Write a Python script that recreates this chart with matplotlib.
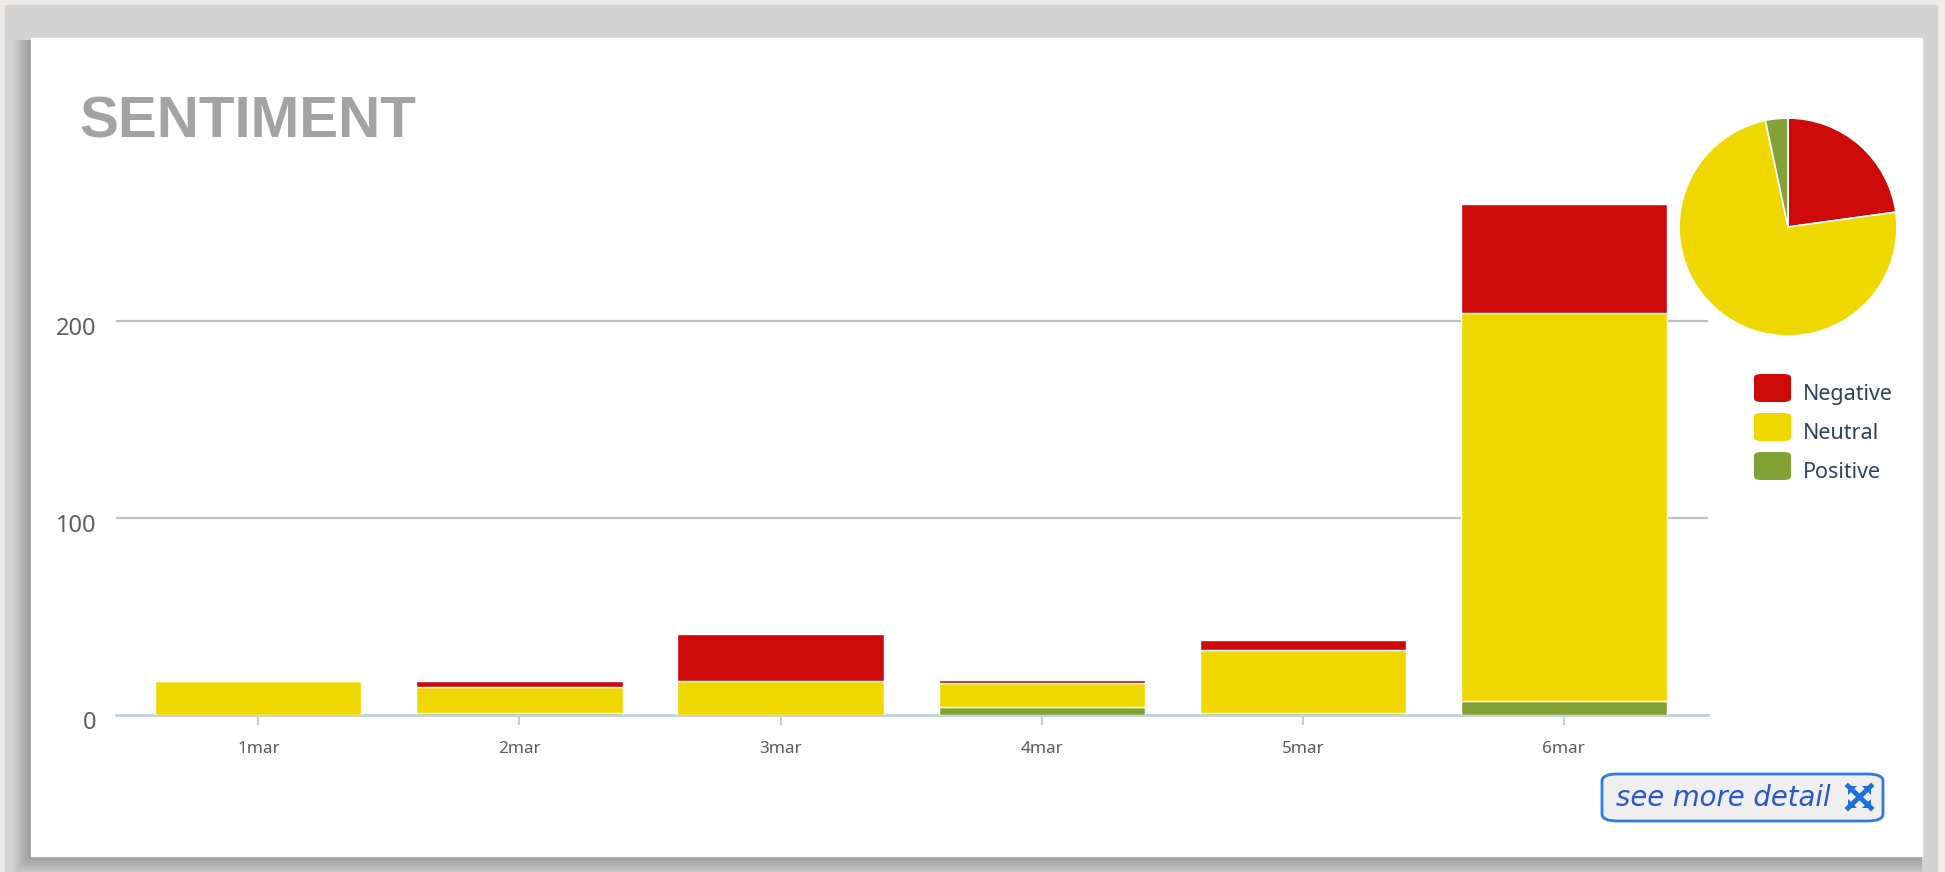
import matplotlib
matplotlib.use("Agg")
import matplotlib.pyplot as plt
from matplotlib.patches import Rectangle, FancyBboxPatch, Polygon
import matplotlib.transforms as mtransforms
import numpy as np

# data
days = ["1mar", "2mar", "3mar", "4mar", "5mar", "6mar"]
positive = [0, 1, 0, 4, 1, 7]
neutral = [17, 13, 17, 12, 32, 197]
negative = [0, 3, 24, 2, 5, 55]
series_names = ["Negative", "Neutral", "Positive"]
y_ticks = [0, 100, 200]

c_neg = "#cd0909"
c_neu = "#efd800"
c_pos = "#82a136"

W, H = 1945, 872
fig = plt.figure(figsize=(W / 100, H / 100), dpi=100)
fig.patch.set_facecolor("#ecebe7")


def box(x0, y0, x1, y1):
    # pixel box (top-left origin) -> figure fraction
    return (x0 / W, 1 - y1 / H, (x1 - x0) / W, (y1 - y0) / H)


def pt(px, py):
    return (px / W, 1 - py / H)


# grey frame, shadow and white card
l, b, w, h = box(5, 5, 1937, 872)
fig.add_artist(Rectangle((l, b), w, h, transform=fig.transFigure, color="#d3d3d3", zorder=0))
for k in range(10):
    l, b, w, h = box(31 - 2 * k, 40, 1922, 856 + 2 * k)
    fig.add_artist(Rectangle((l, b), w, h, transform=fig.transFigure, color="#555555",
                             alpha=0.05, lw=0, zorder=0))
l, b, w, h = box(31, 38, 1922, 856)
fig.add_artist(Rectangle((l, b), w, h, transform=fig.transFigure, color="white", zorder=0))

# title
fig.text(79 / W, 1 - 138 / H, "SENTIMENT", fontsize=42, fontweight="bold",
         family="Liberation Sans", color="#a3a3a3", va="baseline", ha="left")

# bar chart
ax_l, ax_r, ax_b, ax_t = 116, 1708, 715, 183
ax = fig.add_axes([ax_l / W, 1 - ax_b / H, (ax_r - ax_l) / W, (ax_b - ax_t) / H])
ax.set_facecolor("none")
x = np.arange(len(days))
pos = np.array(positive)
neu = np.array(neutral)
neg = np.array(negative)
bw = 0.79
ax.bar(x, pos, bw, color=c_pos, edgecolor="white", linewidth=1, zorder=3)
ax.bar(x, neu, bw, bottom=pos, color=c_neu, edgecolor="white", linewidth=1, zorder=3)
ax.bar(x, neg, bw, bottom=pos + neu, color=c_neg, edgecolor="white", linewidth=1, zorder=3)

ax.set_xlim(-0.545, 5.552)
ax.set_ylim(0, (ax_b - ax_t) / 1.9715)
ax.set_xticks(x)
ax.set_xticklabels(days, family="Noto Sans", fontsize=12.3, color="#5a5a5a")
ax.set_yticks(y_ticks)
ax.set_yticklabels([str(v) for v in y_ticks], family="Noto Sans", fontsize=17, color="#606060")
ax.tick_params(axis="y", length=0, pad=14)
ax.tick_params(axis="x", length=7.5, width=1.5, color="#c0d0e0", pad=11)
for sp in ["top", "right", "left"]:
    ax.spines[sp].set_visible(False)
ax.spines["bottom"].set_color("#c0d0e0")
ax.spines["bottom"].set_linewidth(2)
for v in y_ticks[1:]:
    ax.axhline(v, color="#c0c0c0", lw=1.6, zorder=1)
off = mtransforms.ScaledTranslation(0, -5 / 100, fig.dpi_scale_trans)
for lab in ax.get_yticklabels():
    lab.set_transform(lab.get_transform() + off)

# pie of the totals
totals = [neg.sum(), neu.sum(), pos.sum()]
cx, cy, r = 1788, 227, 110
pax = fig.add_axes(box(cx - r, cy - r, cx + r, cy + r))
pax.pie(totals, colors=[c_neg, c_neu, c_pos], startangle=90, counterclock=False,
        wedgeprops=dict(edgecolor="white", linewidth=1.2))
pax.set_xlim(-1.01, 1.01)
pax.set_ylim(-1.01, 1.01)
pax.set_aspect("equal")
pax.axis("off")

# legend
for i, (name, col) in enumerate(zip(series_names, [c_neg, c_neu, c_pos])):
    y0 = 374 + 39 * i
    l, b, w, h = box(1754, y0, 1791, y0 + 28)
    fig.add_artist(FancyBboxPatch((l, b), w, h, boxstyle="round,pad=0,rounding_size=0.004",
                                  transform=fig.transFigure, color=col, lw=0))
    fig.text(1803 / W, 1 - (y0 + 20) / H, name, family="Noto Sans", fontsize=15.5,
             color="#2d4260", va="center", ha="left")

# "see more detail" button
l, b, w, h = box(1602, 774, 1883, 821)
fig.add_artist(FancyBboxPatch((l, b), w, h, boxstyle="round,pad=0,rounding_size=0.008",
                              transform=fig.transFigure, facecolor="#efefef",
                              edgecolor="#2f7be0", lw=2))
fig.text(1616 / W, 1 - 798 / H, "see more detail", family="DejaVu Sans", style="italic",
         fontsize=19.8, color="#2a55cc", va="center", ha="left")

# expand icon: two crossing diagonals with arrow heads at the corners
icon_c = "#1f6fd8"
x0, x1, y0, y1 = 1848, 1871, 786, 808
fig.add_artist(plt.Line2D([x0 / W, x1 / W], [1 - y0 / H, 1 - y1 / H], color=icon_c, lw=3.5,
                          transform=fig.transFigure))
fig.add_artist(plt.Line2D([x0 / W, x1 / W], [1 - y1 / H, 1 - y0 / H], color=icon_c, lw=3.5,
                          transform=fig.transFigure))
s = 9
for (cxp, cyp, sx, sy) in [(x0, y0, 1, 1), (x1, y0, -1, 1), (x0, y1, 1, -1), (x1, y1, -1, -1)]:
    tri = [pt(cxp, cyp), pt(cxp + sx * s, cyp), pt(cxp, cyp + sy * s)]
    fig.add_artist(Polygon(tri, closed=True, transform=fig.transFigure, color=icon_c, lw=0))

fig.savefig("out.png", dpi=100, facecolor=fig.get_facecolor())
